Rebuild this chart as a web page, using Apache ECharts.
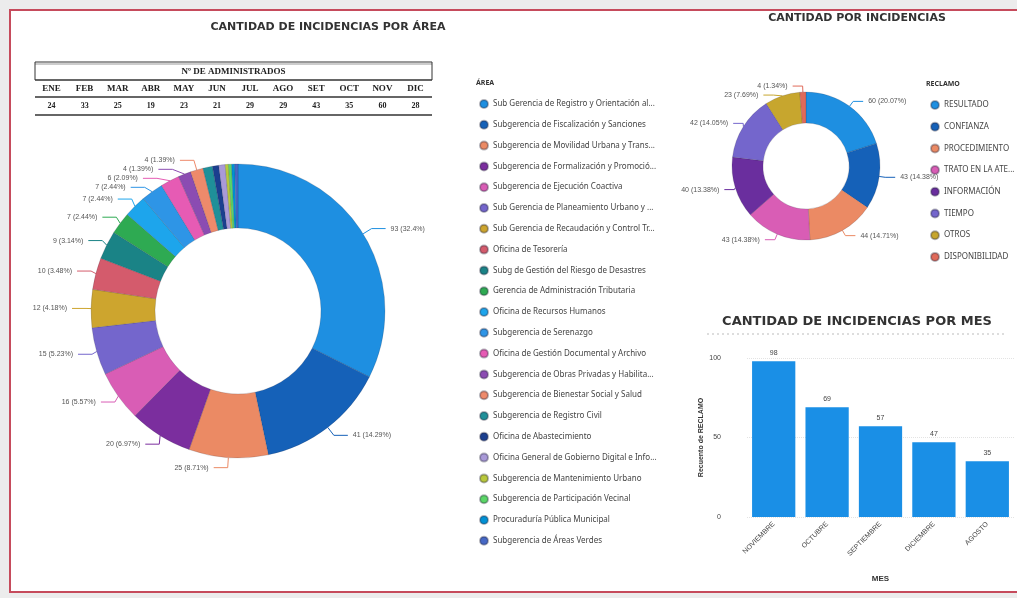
<!DOCTYPE html>
<html>
<head>
<meta charset="utf-8">
<script src="https://cdn.jsdelivr.net/npm/echarts@6/dist/echarts.min.js"></script>
<style>
  html, body { margin: 0; padding: 0; background: #ececec; }
  #main { width: 1017px; height: 598px; }
</style>
</head>
<body>
<div id="main"></div>
<script>
// datos por area (dona grande)
var areaNames = [
  'Sub Gerencia de Registro y Orientación al Contribuyente',
  'Subgerencia de Fiscalización y Sanciones',
  'Subgerencia de Movilidad Urbana y Transporte',
  'Subgerencia de Formalización y Promoción Empresarial',
  'Subgerencia de Ejecución Coactiva',
  'Sub Gerencia de Planeamiento Urbano y Catastro',
  'Sub Gerencia de Recaudación y Control Tributario',
  'Oficina de Tesorería',
  'Subg de Gestión del Riesgo de Desastres',
  'Gerencia de Administración Tributaria',
  'Oficina de Recursos Humanos',
  'Subgerencia de Serenazgo',
  'Oficina de Gestión Documental y Archivo',
  'Subgerencia de Obras Privadas y Habilitaciones',
  'Subgerencia de Bienestar Social y Salud',
  'Subgerencia de Registro Civil',
  'Oficina de Abastecimiento',
  'Oficina General de Gobierno Digital e Informática',
  'Subgerencia de Mantenimiento Urbano',
  'Subgerencia de Participación Vecinal',
  'Procuraduría Pública Municipal',
  'Subgerencia de Áreas Verdes'
];
var areaValues = [93, 41, 25, 20, 16, 15, 12, 10, 9, 7, 7, 7, 6, 4, 4, 3, 2, 2, 1, 1, 1, 1];

// datos por tipo de reclamo (dona chica)
var reclamoNames = ['RESULTADO', 'CONFIANZA', 'PROCEDIMIENTO', 'TRATO EN LA ATENCIÓN', 'INFORMACIÓN', 'TIEMPO', 'OTROS', 'DISPONIBILIDAD'];
var reclamoValues = [60, 43, 44, 43, 40, 42, 23, 4];

// datos por mes (barras)
var meses = ['NOVIEMBRE', 'OCTUBRE', 'SEPTIEMBRE', 'DICIEMBRE', 'AGOSTO'];
var mesValues = [98, 69, 57, 47, 35];
var yTicks = [0, 50, 100];

// tabla de administrados
var adminMeses = ['ENE', 'FEB', 'MAR', 'ABR', 'MAY', 'JUN', 'JUL', 'AGO', 'SET', 'OCT', 'NOV', 'DIC'];
var adminValores = [24, 33, 25, 19, 23, 21, 29, 29, 43, 35, 60, 28];

var areaColors = ['#1E8FE1', '#1561B8', '#EB8A64', '#7B2E9E', '#D95DB5', '#7466CC', '#CDA52E', '#D45B6C',
  '#1A8386', '#2EAA52', '#1DA5EC', '#2E95E6', '#E65BB4', '#8B4CB2', '#EE8A6B', '#1F9099', '#1B3F8F',
  '#A99AD8', '#B9C83C', '#5BD667', '#0091D5', '#4668C5'];
var reclamoColors = ['#1E8FE1', '#1561B8', '#EB8A64', '#D95DB5', '#6A2E9E', '#7466CC', '#C7A62E', '#E06A5A'];

var myChart = echarts.init(document.getElementById('main'));

// tabla dibujada con graphic
var tabla = [];
var tx0 = 35, tx1 = 432, colW = (tx1 - tx0) / adminMeses.length;
[62, 80, 97, 115].forEach(function (y, i) {
  tabla.push({ type: 'line', shape: { x1: tx0, y1: y, x2: tx1, y2: y }, style: { stroke: '#333', lineWidth: i === 0 ? 1 : 1.5 } });
});
tabla.push({ type: 'line', shape: { x1: tx0, y1: 64, x2: tx1, y2: 64 }, style: { stroke: '#555', lineWidth: 0.6 } });
tabla.push({ type: 'line', shape: { x1: tx0, y1: 62, x2: tx0, y2: 80 }, style: { stroke: '#333', lineWidth: 1 } });
tabla.push({ type: 'line', shape: { x1: tx1, y1: 62, x2: tx1, y2: 80 }, style: { stroke: '#333', lineWidth: 1 } });
tabla.push({ type: 'text', x: (tx0 + tx1) / 2, y: 72, style: { text: 'Nº DE ADMINISTRADOS', font: 'bold 9px "Liberation Serif"', fill: '#222', align: 'center', verticalAlign: 'middle' } });
adminMeses.forEach(function (m, i) {
  var cx = tx0 + colW * (i + 0.5);
  tabla.push({ type: 'text', x: cx, y: 89, style: { text: m, font: 'bold 9px "Liberation Serif"', fill: '#222', align: 'center', verticalAlign: 'middle' } });
  tabla.push({ type: 'text', x: cx, y: 106, style: { text: String(adminValores[i]), font: 'bold 8px "Liberation Serif"', fill: '#222', align: 'center', verticalAlign: 'middle' } });
});

var option = {
  backgroundColor: '#ececec',
  graphic: [
    // marco
    { type: 'rect', z: -10, shape: { x: 10, y: 10, width: 1015, height: 582 }, style: { fill: '#fff', stroke: '#C64B5C', lineWidth: 2 } },
    { type: 'text', x: 328, y: 27, style: { text: 'CANTIDAD DE INCIDENCIAS POR ÁREA', font: 'bold 11px "DejaVu Sans"', fill: '#333', align: 'center', verticalAlign: 'middle' } },
    { type: 'text', x: 857, y: 18, style: { text: 'CANTIDAD POR INCIDENCIAS', font: 'bold 11px "DejaVu Sans"', fill: '#333', align: 'center', verticalAlign: 'middle' } },
    { type: 'text', x: 857, y: 322, style: { text: 'CANTIDAD DE INCIDENCIAS POR MES', font: 'bold 13px "DejaVu Sans"', fill: '#333', align: 'center', verticalAlign: 'middle' } },
    { type: 'line', shape: { x1: 707, y1: 334, x2: 1005, y2: 334 }, style: { stroke: '#bbb', lineWidth: 1, lineDash: [2, 3] } },
    { type: 'text', x: 476, y: 83, style: { text: 'ÁREA', font: 'bold 7px "Noto Sans"', fill: '#333', verticalAlign: 'middle' } },
    { type: 'text', x: 926, y: 84, style: { text: 'RECLAMO', font: 'bold 7px "Noto Sans"', fill: '#333', verticalAlign: 'middle' } }
  ].concat(tabla),
  legend: [{
    data: areaNames,
    orient: 'vertical',
    left: 474,
    top: 94,
    itemGap: 10.8,
    itemWidth: 8,
    itemHeight: 8,
    icon: 'circle',
    textStyle: { fontSize: 8, color: '#444', fontFamily: 'Noto Sans', width: 165, overflow: 'truncate', ellipsis: '...' }
  }, {
    data: reclamoNames,
    orient: 'vertical',
    left: 925,
    top: 95,
    itemGap: 11.7,
    itemWidth: 8,
    itemHeight: 8,
    icon: 'circle',
    textStyle: { fontSize: 8, color: '#444', fontFamily: 'Noto Sans', width: 72, overflow: 'truncate', ellipsis: '...' }
  }],
  grid: { left: 747, right: 3, top: 358, bottom: 81 },
  xAxis: {
    type: 'category',
    data: meses,
    name: 'MES',
    nameLocation: 'middle',
    nameGap: 58,
    nameTextStyle: { fontSize: 8, fontWeight: 'bold', color: '#333' },
    axisLine: { show: false },
    axisTick: { show: false },
    axisLabel: { rotate: 45, fontSize: 7, color: '#444', margin: 6 }
  },
  yAxis: {
    type: 'value',
    min: yTicks[0],
    max: yTicks[yTicks.length - 1],
    interval: yTicks[1] - yTicks[0],
    name: 'Recuento de RECLAMO',
    nameLocation: 'middle',
    nameGap: 42,
    nameTextStyle: { fontSize: 7, fontWeight: 'bold', color: '#333' },
    axisLine: { show: false },
    axisTick: { show: false },
    axisLabel: { fontSize: 7, color: '#444', margin: 26 },
    splitLine: { lineStyle: { color: '#e3e3e3', type: 'dotted' } }
  },
  series: [{
    name: 'AREA',
    type: 'pie',
    center: [238, 311],
    radius: [83, 147],
    startAngle: 90,
    color: areaColors,
    minShowLabelAngle: 4,
    data: areaNames.map(function (n, i) { return { name: n, value: areaValues[i] }; }),
    label: { formatter: '{c} ({d}%)', fontSize: 7, color: '#555' },
    labelLine: { length: 10, length2: 14, lineStyle: { width: 1 } },
    labelLayout: { hideOverlap: true },
    itemStyle: { borderColor: 'rgba(40,40,60,0.35)', borderWidth: 0.5 }
  }, {
    name: 'RECLAMO',
    type: 'pie',
    center: [806, 166],
    radius: [43, 74],
    startAngle: 90,
    color: reclamoColors,
    data: reclamoNames.map(function (n, i) { return { name: n, value: reclamoValues[i] }; }),
    label: { formatter: '{c} ({d}%)', fontSize: 7, color: '#555' },
    labelLine: { length: 6, length2: 10 },
    labelLayout: { hideOverlap: true },
    itemStyle: { borderColor: 'rgba(40,40,60,0.35)', borderWidth: 0.5 }
  }, {
    name: 'Recuento de RECLAMO',
    type: 'bar',
    data: mesValues,
    barCategoryGap: '19%',
    itemStyle: { color: '#1A8FE6' },
    label: { show: true, position: 'top', fontSize: 7, color: '#444' }
  }]
};

myChart.setOption(option);
window.onresize = myChart.resize;
</script>
</body>
</html>
